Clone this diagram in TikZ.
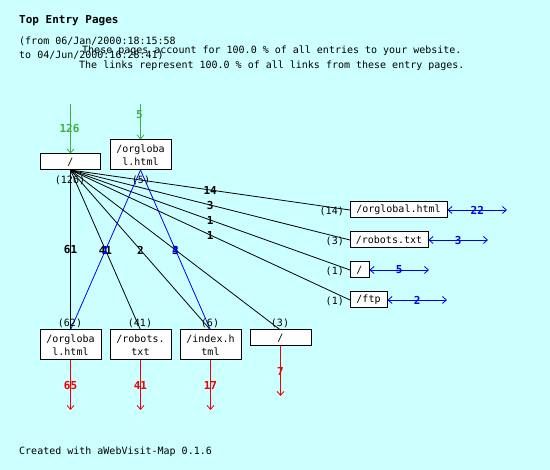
\documentclass[tikz,border=0pt]{standalone}
\usepackage{fontspec}
\setmainfont{DejaVu Sans Mono}
\usetikzlibrary{arrows.meta}
\definecolor{bg}{HTML}{CCFFFF}
\definecolor{grn}{HTML}{40B040}
\definecolor{rd}{HTML}{F00000}
\definecolor{bl}{HTML}{0000F0}
\begin{document}
\begin{tikzpicture}[x=1pt,y=-1pt, font=\fontsize{10}{13}\selectfont,
  box/.style={draw=black, fill=white, line width=1pt, inner sep=0pt, align=center},
  cnt/.style={inner sep=0pt},
  txt/.style={inner sep=0pt, anchor=base west},
  lbl/.style={font=\fontsize{11}{13}\selectfont\bfseries, inner sep=0pt},
  tip/.style={-{Straight Barb[length=4pt,width=7pt]}},
  dtip/.style={{Straight Barb[length=4pt,width=7pt]}-{Straight Barb[length=4pt,width=7pt]}},
  ln/.style={line width=0.8pt}
]
\fill[bg] (0,0) rectangle (550,470);
\useasboundingbox (0,0) rectangle (550,470);

% header
\node[txt, font=\fontsize{11}{13}\selectfont\bfseries] (title) at (19,24) {Top Entry Pages};
\node[txt] (from) at (19,45) {(from 06/Jan/2000:18:15:58};
\node[txt] (to) at (19,59) {to 04/Jun/2000:16:28:41)};
\node[txt] (l1) at (82,54) {These pages account for 100.0 \% of all entries to your website.};
\node[txt] (l2) at (79,69) {The links represent 100.0 \% of all links from these entry pages.};
\node[txt] (foot) at (19,455) {Created with aWebVisit-Map 0.1.6};

% coordinates for boxes (nodes drawn later on top)
\coordinate (top1s) at (70.5,170);
\coordinate (top2s) at (140.5,170);
\coordinate (r1w) at (350,210);
\coordinate (r2w) at (350,240);
\coordinate (r3w) at (350,270);
\coordinate (r4w) at (350,300);
\coordinate (b1n) at (70.5,330);
\coordinate (b2n) at (140.5,330);
\coordinate (b3n) at (210.5,330);
\coordinate (b4n) at (280.5,330);

% black fan lines
\draw[ln] (top1s) -- (r1w) node[lbl, midway] {14};
\draw[ln] (top1s) -- (r2w) node[lbl, midway] {3};
\draw[ln] (top1s) -- (r3w) node[lbl, midway] {1};
\draw[ln] (top1s) -- (r4w) node[lbl, midway] {1};
\draw[ln] (top1s) -- (b1n) node[lbl, midway] {61};
\draw[ln] (top1s) -- (b2n) node[lbl, midway] {41};
\draw[ln] (top1s) -- (b3n) node[lbl, midway] {2};
\draw[ln] (top1s) -- (b4n) node[lbl, midway] {3};

% blue lines
\draw[ln, bl] (top2s) -- (b1n) node[lbl, midway] {1};
\draw[ln, bl] (top2s) -- (b3n) node[lbl, midway] {4};

% boxes
\node[box, minimum width=60pt, minimum height=16pt] (top1) at (70.5,162) {/};
\node[box, minimum width=61pt, minimum height=30pt] (top2) at (140.5,155) {/orgloba\\l.html};
\node[box, minimum width=97pt, minimum height=16pt] (r1) at (398.5,210) {/orglobal.html};
\node[box, minimum width=78pt, minimum height=16pt] (r2) at (389,240) {/robots.txt};
\node[box, minimum width=19pt, minimum height=16pt] (r3) at (359.5,270) {/};
\node[box, minimum width=37pt, minimum height=16pt] (r4) at (368.5,300) {/ftp};
\node[box, minimum width=61pt, minimum height=30pt] (b1) at (70.5,345) {/orgloba\\l.html};
\node[box, minimum width=61pt, minimum height=30pt] (b2) at (140.5,345) {/robots.\\txt};
\node[box, minimum width=61pt, minimum height=30pt] (b3) at (210.5,345) {/index.h\\tml};
\node[box, minimum width=61pt, minimum height=16pt] (b4) at (280.5,338) {/};

% counts
\node[cnt] (c1) at (70,180) {(126)};
\node[cnt] (c2) at (141,180) {(5)};
\node[cnt] (c3) at (70,323) {(62)};
\node[cnt] (c4) at (140,323) {(41)};
\node[cnt] (c5) at (210,323) {(6)};
\node[cnt] (c6) at (280,323) {(3)};
\node[cnt, anchor=east] (c7) at (344,211.5) {(14)};
\node[cnt, anchor=east] (c8) at (344,241.5) {(3)};
\node[cnt, anchor=east] (c9) at (344,271.5) {(1)};
\node[cnt, anchor=east] (c10) at (344,301.5) {(1)};

% green incoming
\coordinate (g1) at (70.5,104);
\coordinate (g2) at (140.5,104);
\draw[ln, grn, tip] (g1) -- (top1.north);
\node[lbl, text=grn] (gl1) at (69.5,129) {126};
\draw[ln, grn, tip] (g2) -- (top2.north);
\node[lbl, text=grn] (gl2) at (139.5,115) {5};

% red outgoing
\coordinate (e1) at (70.5,410);
\coordinate (e2) at (140.5,410);
\coordinate (e3) at (210.5,410);
\coordinate (e4) at (280.5,396);
\draw[ln, rd, tip] (b1.south) -- (e1) node[lbl, text=rd, midway] {65};
\draw[ln, rd, tip] (b2.south) -- (e2) node[lbl, text=rd, midway] {41};
\draw[ln, rd, tip] (b3.south) -- (e3) node[lbl, text=rd, midway] {17};
\draw[ln, rd, tip] (b4.south) -- (e4) node[lbl, text=rd, midway] {7};

% blue outgoing to the right
\coordinate (o1) at (507,210);
\coordinate (o2) at (488,240);
\coordinate (o3) at (429,270);
\coordinate (o4) at (447,300);
\draw[ln, bl, dtip] (r1.east) -- (o1) node[lbl, midway] {22};
\draw[ln, bl, dtip] (r2.east) -- (o2) node[lbl, midway] {3};
\draw[ln, bl, dtip] (r3.east) -- (o3) node[lbl, midway] {5};
\draw[ln, bl, dtip] (r4.east) -- (o4) node[lbl, midway] {2};
\end{tikzpicture}
\end{document}
